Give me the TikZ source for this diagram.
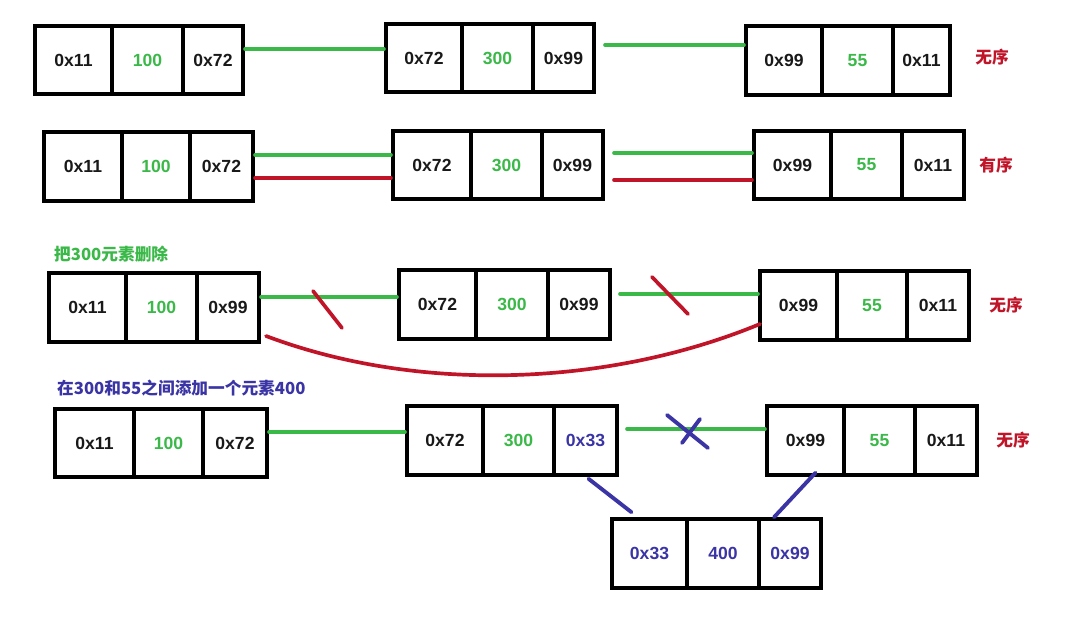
\documentclass[tikz,border=0pt]{standalone}
\usepackage{fontspec}
\setmainfont{Liberation Sans}
\newfontfamily\cjk{Noto Sans CJK SC}
\definecolor{lgreen}{RGB}{58,184,72}
\definecolor{lred}{RGB}{192,20,40}
\definecolor{lblue}{RGB}{58,52,165}

\begin{document}
\begin{tikzpicture}[x=0.02cm, y=-0.02cm, font=\bfseries\fontsize{10}{12}\selectfont, line cap=round]
    \tikzstyle{cell}=[draw, line width=2.3pt, inner sep=0pt, minimum height=1.37cm, text=black!90]
    \tikzstyle{val}=[cell, text=lgreen]
    \tikzstyle{gline}=[draw=lgreen, line width=2.1pt]
    \tikzstyle{rline}=[draw=lred, line width=2.1pt]
    \tikzstyle{bline}=[draw=lblue, line width=2.2pt]
    \tikzstyle{tag}=[text=lred, font=\cjk\bfseries\fontsize{9.5}{11}\selectfont]
    \useasboundingbox (0,0) rectangle (1069,618);
    % unordered
    \node[cell, minimum width=1.54cm] (a1l) at (73.5,60) {0x11};
    \node[val, minimum width=1.42cm] (a1m) at (147.5,60) {100};
    \node[cell, minimum width=1.2cm] (a1r) at (213,60) {0x72};
    \node[cell, minimum width=1.52cm] (b1l) at (424,58) {0x72};
    \node[val, minimum width=1.42cm] (b1m) at (497.5,58) {300};
    \node[cell, minimum width=1.22cm] (b1r) at (563.5,58) {0x99};
    \node[cell, minimum width=1.52cm] (c1l) at (784,60.5) {0x99};
    \node[val, minimum width=1.42cm] (c1m) at (857.5,60.5) {55};
    \node[cell, minimum width=1.14cm] (c1r) at (921.5,60.5) {0x11};
    \node[tag] (t1) at (992,57) {无序};
    \draw[gline] (a1r.east) ++(0,-11) coordinate (g1) -- (g1 -| b1l.west);
    \draw[gline] (b1r.east) ++(9,-13) coordinate (g2) -- (g2 -| c1l.west);
    % ordered
    \node[cell, minimum width=1.56cm] (a2l) at (83,166.5) {0x11};
    \node[val, minimum width=1.36cm] (a2m) at (156,166.5) {100};
    \node[cell, minimum width=1.26cm] (a2r) at (221.5,166.5) {0x72};
    \node[cell, minimum width=1.56cm] (b2l) at (432,165) {0x72};
    \node[val, minimum width=1.42cm] (b2m) at (506.5,165) {300};
    \node[cell, minimum width=1.22cm] (b2r) at (572.5,165) {0x99};
    \node[cell, minimum width=1.54cm] (c2l) at (792.5,165) {0x99};
    \node[val, minimum width=1.42cm] (c2m) at (866.5,165) {55};
    \node[cell, minimum width=1.24cm] (c2r) at (933,165) {0x11};
    \node[tag] (t2) at (996,165) {有序};
    \draw[gline] (a2r.east) ++(0,-11.5) coordinate (g3) -- (g3 -| b2l.west);
    \draw[rline] (a2r.east) ++(0,11.5) coordinate (r1) -- (r1 -| b2l.west);
    \draw[gline] (b2r.east) ++(9,-12) coordinate (g4) -- (g4 -| c2l.west);
    \draw[rline] (b2r.east) ++(9,15) coordinate (r2) -- (r2 -| c2l.west);
    % delete 300
    \node[text=lgreen, font=\cjk\bfseries\fontsize{9.5}{11}\selectfont, anchor=west] (lab3) at (48,254) {把300元素删除};
    \node[cell, minimum width=1.54cm] (a3l) at (87.5,307.5) {0x11};
    \node[val, minimum width=1.42cm] (a3m) at (161.5,307.5) {100};
    \node[cell, minimum width=1.24cm] (a3r) at (228,307.5) {0x99};
    \node[cell, minimum width=1.54cm] (b3l) at (437.5,304.5) {0x72};
    \node[val, minimum width=1.44cm] (b3m) at (512,304.5) {300};
    \node[cell, minimum width=1.24cm] (b3r) at (579,304.5) {0x99};
    \node[cell, minimum width=1.54cm] (c3l) at (798.5,305.5) {0x99};
    \node[val, minimum width=1.40cm] (c3m) at (872,305.5) {55};
    \node[cell, minimum width=1.24cm] (c3r) at (938,305.5) {0x11};
    \node[tag] (t3) at (1006,305) {无序};
    \draw[gline] (a3r.east) ++(0,-10.5) coordinate (g5) -- (g5 -| b3l.west);
    \draw[gline] (b3r.east) ++(8,-10.5) coordinate (g6) -- (g6 -| c3l.west);
    \draw[rline] (313,291) -- (342,328);
    \draw[rline] (652,277) -- (688,314);
    \path (a3r.east) ++(5,28.5) coordinate (cut1);
    \path (c3l.west) ++(2,18.5) coordinate (cut2);
    \draw[rline] (cut1) .. controls (420,394) and (610,386) .. (cut2);
    % insert 400
    \node[text=lblue, font=\cjk\bfseries\fontsize{9.5}{11}\selectfont, anchor=west] (lab4) at (51,388) {在300和55之间添加一个元素400};
    \node[cell, minimum width=1.58cm] (a4l) at (94.5,443) {0x11};
    \node[val, minimum width=1.38cm] (a4m) at (168.5,443) {100};
    \node[cell, minimum width=1.28cm] (a4r) at (235,443) {0x72};
    \node[cell, minimum width=1.52cm] (b4l) at (445,440.5) {0x72};
    \node[val, minimum width=1.42cm] (b4m) at (518.5,440.5) {300};
    \node[cell, minimum width=1.26cm, text=lblue] (b4r) at (585.5,440.5) {0x33};
    \node[cell, minimum width=1.54cm] (c4l) at (805.5,440.5) {0x99};
    \node[val, minimum width=1.42cm] (c4m) at (879.5,440.5) {55};
    \node[cell, minimum width=1.24cm] (c4r) at (946,440.5) {0x11};
    \node[tag] (t4) at (1013,440) {无序};
    \node[cell, minimum width=1.5cm, text=lblue] (d4l) at (649.5,553.5) {0x33};
    \node[cell, minimum width=1.44cm, text=lblue] (d4m) at (723,553.5) {400};
    \node[cell, minimum width=1.24cm, text=lblue] (d4r) at (790,553.5) {0x99};
    \draw[gline] (a4r.east) ++(0,-11) coordinate (g7) -- (g7 -| b4l.west);
    \draw[gline] (b4r.east) ++(8,-11.5) coordinate (g8) -- (g8 -| c4l.west);
    \draw[bline] (667,415) -- (708,448);
    \draw[bline] (682,443) -- (700,419);
    \path (d4l.north) ++(-18,-5) coordinate (n1);
    \path (d4r.north) ++(-16,0) coordinate (n2);
    \draw[bline] (b4r.south) ++(3,2) -- (n1);
    \draw[bline] (c4l.south) ++(10,-4) -- (n2);
\end{tikzpicture}
\end{document}
